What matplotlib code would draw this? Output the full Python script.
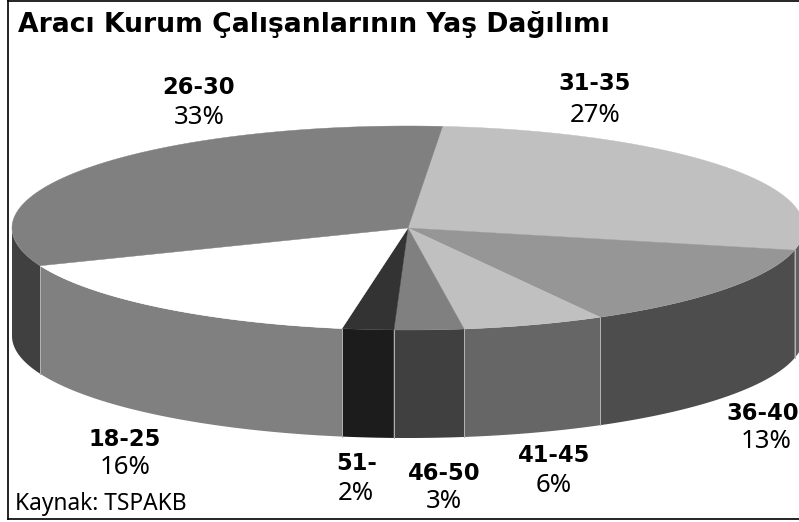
import numpy as np
import matplotlib
matplotlib.use("Agg")
import matplotlib.pyplot as plt
from matplotlib.patches import Polygon, Rectangle

W, H = 799, 522
TITLE = "Aracı Kurum Çalışanlarının Yaş Dağılımı"
SOURCE = "Kaynak: TSPAKB"
categories = ["31-35", "36-40", "41-45", "46-50", "51-", "18-25", "26-30"]
percent_labels = [27, 13, 6, 3, 2, 16, 33]
# slice sizes
shares = [27.1, 13.45, 5.8, 2.83, 2.1, 16.3, 32.42]
top_colors = ["#c0c0c0", "#969696", "#c0c0c0", "#808080", "#333333", "#ffffff", "#808080"]
wall_colors = ["#606060", "#4d4d4d", "#666666", "#404040", "#1c1c1c", "#808080", "#404040"]
name_pos = [(595, 84), (763, 413), (554, 456), (444, 473), (357, 464), (125, 439), (199, 88)]
pct_pos = [(595, 115), (766, 442), (554, 486), (444, 502), (356, 494), (125, 468), (199, 117)]

fig = plt.figure(figsize=(W / 100, H / 100), dpi=100)
ax = fig.add_axes([0, 0, 1, 1])
ax.set_xlim(0, W)
ax.set_ylim(H, 0)
ax.axis("off")

cx, cy, rx, ry, depth = 408, 228, 396, 102, 108
start = 5.0


def arc(a0, a1, dy=0.0):
    t = np.radians(np.linspace(a0, a1, 120))
    return np.column_stack([cx + rx * np.sin(t), cy - ry * np.cos(t) + dy])


clip = Rectangle((8, 1), W, H - 4, transform=ax.transData)
edges = start + np.cumsum([0] + shares) * 3.6
# walls first, back-to-front
for i in np.argsort([-abs(180 - (edges[k] + edges[k + 1]) / 2) for k in range(len(shares))]):
    a0, a1 = edges[i], edges[i + 1]
    lo, hi = max(a0, 90), min(a1, 270)
    if hi <= lo:
        continue
    top = arc(lo, hi)
    bot = arc(hi, lo, depth)
    p = Polygon(np.vstack([top, bot]), closed=True, fc=wall_colors[i], ec="none", zorder=2)
    ax.add_patch(p)
    p.set_clip_path(clip)
# light seams between walls
for a in edges:
    if 90 < (a % 360) < 270:
        pts = np.vstack([arc(a, a), arc(a, a, depth)])[[0, -1]]
        ax.plot(pts[:, 0], pts[:, 1], color="#b4b4b4", lw=0.7, zorder=3, clip_path=clip)
# top faces
for i in range(len(shares)):
    poly = np.vstack([[cx, cy], arc(edges[i], edges[i + 1])])
    p = Polygon(poly, closed=True, fc=top_colors[i], ec=top_colors[i], lw=0.3, zorder=4)
    ax.add_patch(p)
    p.set_clip_path(clip)

# frame
ax.plot([8, 8], [0, 519], color="black", lw=1.2, zorder=6)
ax.plot([8, W], [519, 519], color="black", lw=1.2, zorder=6)
ax.plot([8, W], [0.5, 0.5], color="black", lw=1.2, zorder=6)

ax.text(18, 32, TITLE, fontsize=19.2, fontweight="bold", family="DejaVu Sans",
        ha="left", va="baseline", zorder=7)
ax.text(15, 510, SOURCE, fontsize=16.4, family="Noto Sans", ha="left", va="baseline", zorder=7)
for name, val, (x, y), (px, py) in zip(categories, percent_labels, name_pos, pct_pos):
    ax.text(x, y, name, fontsize=16.3, fontweight="bold", family="DejaVu Sans",
            ha="center", va="center", zorder=7, clip_on=True)
    ax.text(px, py, f"{val}%", fontsize=18.5, family="Noto Sans",
            ha="center", va="center", zorder=7, clip_on=True)

fig.savefig("out.png", dpi=100)
